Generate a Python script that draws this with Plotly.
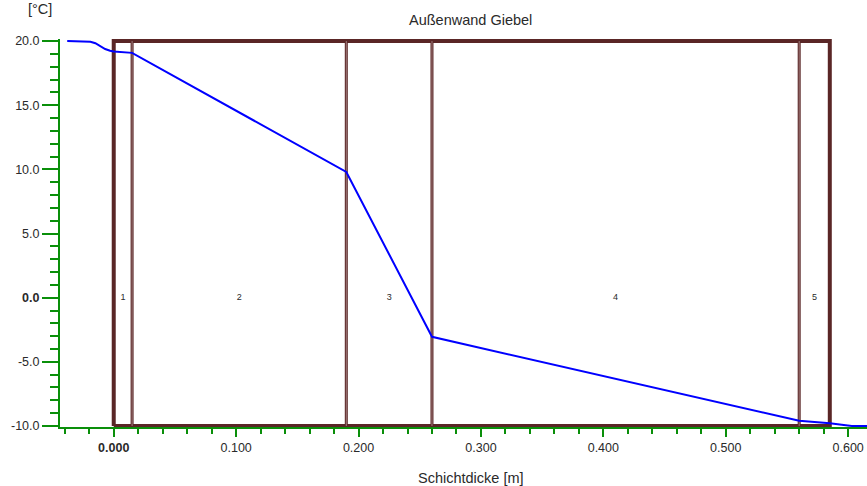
import plotly.graph_objects as go

# Temperature profile through the wall (position in m, temperature in °C)
positions = [-0.038, -0.025, -0.019, -0.015, -0.011, -0.007, -0.003, 0.0,
             0.015, 0.19, 0.26, 0.56, 0.585,
             0.590, 0.594, 0.597, 0.600, 0.603, 0.6155]
temperatures = [20.0, 20.0, 19.95, 19.83, 19.62, 19.38, 19.24, 19.18,
                19.08, 9.8, -3.05, -9.6, -9.78,
                -9.85, -9.91, -9.96, -9.99, -10.0, -10.0]

# Layer boundaries (m)
wall_start = 0.0
wall_end = 0.585
inner_boundaries = [0.015, 0.19, 0.26, 0.56]
layer_names = ["1", "2", "3", "4", "5"]

wall_bottom, wall_top = -10.0, 20.0
y_range = [-10.08, 20.16]
x_range = [-0.0439, 0.6154]

GREEN = "#0a8f0a"
BROWN = "#5a2626"
TEXT = "#2a2a2a"
FONT = "Liberation Sans, Arial, sans-serif"

fig = go.Figure()

# Outer frame of the wall section
fig.add_trace(go.Scatter(
    x=[wall_start, wall_end, wall_end, wall_start, wall_start],
    y=[wall_bottom, wall_bottom, wall_top, wall_top, wall_bottom],
    mode="lines", line=dict(color=BROWN, width=4),
    hoverinfo="skip", showlegend=False,
))

# Inner layer boundaries: dark edge with a lighter core
for b in inner_boundaries:
    fig.add_trace(go.Scatter(
        x=[b, b], y=[wall_bottom, wall_top], mode="lines",
        line=dict(color=BROWN, width=3),
        hoverinfo="skip", showlegend=False,
    ))
    fig.add_trace(go.Scatter(
        x=[b, b], y=[wall_bottom, wall_top], mode="lines",
        line=dict(color="#a07c7c", width=1),
        hoverinfo="skip", showlegend=False,
    ))

# Layer numbers centred in each layer
edges = [wall_start] + inner_boundaries + [wall_end]
centers = [(edges[i] + edges[i + 1]) / 2 for i in range(len(layer_names))]
fig.add_trace(go.Scatter(
    x=centers, y=[0.0] * len(centers), mode="text", text=layer_names,
    textfont=dict(family=FONT, size=9, color=TEXT),
    hoverinfo="skip", showlegend=False,
))

# Temperature curve
fig.add_trace(go.Scatter(
    x=positions, y=temperatures, mode="lines",
    line=dict(color="#0000ff", width=2),
    showlegend=False,
))

x_ticks = [round(0.1 * i, 1) for i in range(7)]
x_text = ["<b>0.000</b>"] + [f"{v:.3f}" for v in x_ticks[1:]]
y_ticks = [-10, -5, 0, 5, 10, 15, 20]
y_text = [("<b>0.0</b>" if v == 0 else f"{v:.1f}") for v in y_ticks]

fig.update_layout(
    width=867, height=486,
    margin=dict(l=60, r=0, t=39, b=59),
    paper_bgcolor="white", plot_bgcolor="white",
    font=dict(family=FONT, size=12.5, color=TEXT),
    xaxis=dict(
        range=x_range, showgrid=False, zeroline=False,
        showline=True, linecolor=GREEN, linewidth=2,
        ticks="outside", ticklen=8, tickwidth=2, tickcolor=GREEN,
        tickvals=x_ticks, ticktext=x_text,
        tickfont=dict(family=FONT, size=12.5, color=TEXT),
        minor=dict(dtick=0.02, tick0=0, ticks="outside", ticklen=5,
                   tickwidth=2, tickcolor=GREEN, showgrid=False),
        layer="below traces",
    ),
    yaxis=dict(
        range=y_range, showgrid=False, zeroline=False,
        showline=True, linecolor=GREEN, linewidth=2,
        ticks="outside", ticklen=16, tickwidth=2, tickcolor=GREEN,
        tickvals=y_ticks, ticktext=y_text,
        tickfont=dict(family=FONT, size=12.5, color=TEXT),
        minor=dict(dtick=1, tick0=0, ticks="outside", ticklen=8,
                   tickwidth=2, tickcolor=GREEN, showgrid=False),
        layer="below traces",
    ),
    annotations=[
        dict(text="Außenwand Giebel", xref="paper", yref="paper",
             x=(470 - 60) / 807, y=1 + (39 - 20) / 388,
             xanchor="center", yanchor="middle", showarrow=False,
             font=dict(family=FONT, size=14.5, color=TEXT)),
        dict(text="Schichtdicke [m]", xref="paper", yref="paper",
             x=(471 - 60) / 807, y=-(478 - 427) / 388,
             xanchor="center", yanchor="middle", showarrow=False,
             font=dict(family=FONT, size=14.5, color=TEXT)),
        dict(text="[°C]", xref="paper", yref="paper",
             x=(40 - 60) / 807, y=1 + (39 - 9) / 388,
             xanchor="center", yanchor="middle", showarrow=False,
             font=dict(family=FONT, size=14.5, color=TEXT)),
    ],
)

fig.write_html("out.html")
